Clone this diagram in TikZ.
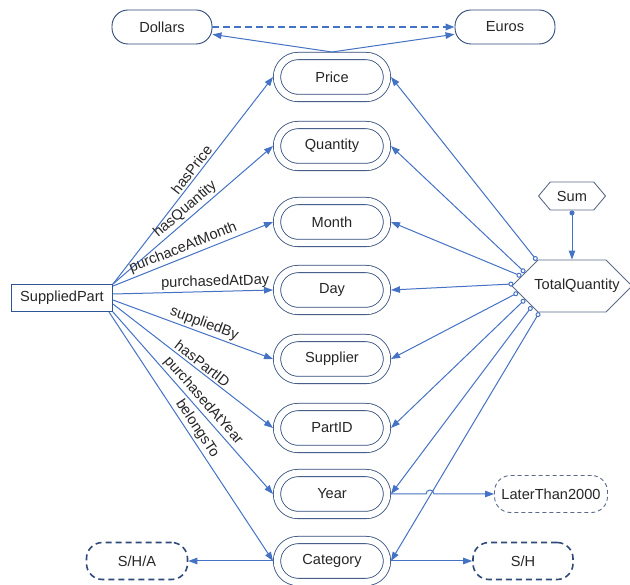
\documentclass[tikz,border=0pt]{standalone}
\usepackage{fontspec}
\setmainfont{Liberation Sans}
\usetikzlibrary{arrows.meta,shapes.symbols,shapes.geometric}
\definecolor{lineblue}{HTML}{4472C4}
\definecolor{navy}{HTML}{2F4A7A}
\definecolor{spblue}{HTML}{2F5597}
\definecolor{hexgray}{HTML}{5B6B87}
\definecolor{txt}{HTML}{262626}
\begin{document}
\begin{tikzpicture}[x=1pt,y=-1pt,
  every node/.style={font=\fontsize{14.6}{16}\selectfont, text=txt},
  attr/.style={draw=navy, line width=0.8pt, double=white, double distance=6.5pt,
    rounded corners=21pt, minimum width=110pt, minimum height=42pt, inner sep=0pt, outer sep=4pt},
  roundbox/.style={draw=navy, line width=0.9pt, rounded corners=16pt,
    minimum width=100pt, minimum height=34pt, inner sep=0pt},
  thindash/.style={draw=hexgray, line width=0.9pt, dash pattern=on 4pt off 3pt,
    rounded corners=16pt, minimum width=113pt, minimum height=37pt, inner sep=0pt},
  thickdash/.style={draw=navy, line width=1.6pt, dash pattern=on 6pt off 4pt,
    rounded corners=16pt, minimum width=100pt, minimum height=37pt, inner sep=0pt},
  hexa/.style={draw=hexgray, line width=0.9pt, shape=signal, signal to=west and east,
    inner ysep=0pt},
  conn/.style={draw=lineblue, line width=1pt, -{Triangle[length=9pt,width=6.5pt]}},
  tqconn/.style={draw=lineblue, line width=1pt,
    {Circle[open,length=5pt,width=5pt]}-{Triangle[length=9pt,width=6.5pt]}},
  lbl/.style={sloped, above, inner sep=2pt}
]
\useasboundingbox (0,0) rectangle (630,585);

% attribute nodes
\node[attr] (price) at (332,77) {Price};
\node[attr] (quantity) at (332,146) {Quantity};
\node[attr] (month) at (332,222) {Month};
\node[attr] (day) at (332,290) {Day};
\node[attr] (supplier) at (332,359) {Supplier};
\node[attr] (partid) at (332,428) {PartID};
\node[attr] (year) at (332,494) {Year};
\node[attr] (category) at (332,561) {Category};

% other nodes
\node[draw=spblue, line width=0.9pt, minimum width=101pt, minimum height=27pt, inner sep=0pt] (sp) at (62,298) {SuppliedPart};
\node[roundbox] (dollars) at (162,27) {Dollars};
\node[roundbox] (euros) at (505,27) {Euros};
\node[hexa, inner xsep=-4pt, minimum width=67pt, minimum height=28pt, signal pointer angle=100] (sum) at (572,196) {Sum};
\node[hexa, inner xsep=-18pt, minimum width=120pt, minimum height=52pt, signal pointer angle=90] (tq) at (572,286) {\hspace*{10pt}TotalQuantity};
\node[thindash] (later) at (551,494) {LaterThan2000};
\node[thickdash] (sh) at (523,561) {S/H};
\node[thickdash, minimum width=101pt] (sha) at (137,561) {S/H/A};

% SuppliedPart edges
\draw[conn] (sp.north east) -- node[lbl, pos=0.53] {hasPrice} (price.west);
\draw[conn] (sp.north east) -- node[lbl, pos=0.49] {hasQuantity} (quantity.west);
\draw[conn] ([yshift=-2pt]sp.north east) -- node[lbl, pos=0.46] {purchaceAtMonth} (month.west);
\draw[conn] ([yshift=4pt]sp.east) -- node[lbl, pos=0.64] {purchasedAtDay} (day.west);
\draw[conn] ([yshift=-2pt]sp.east) -- node[lbl, pos=0.55] {suppliedBy} (supplier.west);
\draw[conn] ([yshift=-6pt]sp.east) -- node[lbl, pos=0.53] {hasPartID} (partid.west);
\draw[conn] (sp.south east) -- node[lbl, pos=0.52] {purchasedAtYear} (year.west);
\draw[conn] ([xshift=-4pt]sp.south east) -- node[lbl, pos=0.49] {belongsTo} (category.west);

% TotalQuantity edges
\draw[tqconn] (tq.144) -- (price.east);
\draw[tqconn] (tq.164) -- (quantity.east);
\draw[tqconn] (tq.169) -- (month.east);
\draw[tqconn] (tq.178) -- (day.east);
\draw[tqconn] (tq.187) -- (supplier.east);
\draw[tqconn] (tq.196) -- (partid.east);
\draw[tqconn] (tq.207) -- (year.east);
\draw[tqconn] (tq.219) -- (category.east);

% Sum
\draw[draw=lineblue, line width=1pt, {Circle[length=5pt,width=5pt]}-{Triangle[length=9pt,width=6.5pt]}] (sum.south) -- (tq.north);

% currency
\draw[conn] (price.north) -- (dollars);
\draw[conn] (price.north) -- (euros);
\draw[conn, line width=1.8pt, dash pattern=on 7pt off 4pt] (dollars.east) -- (euros.west);

% year and category
\draw[conn] (year.east) -- ++(35,0) arc[start angle=180, end angle=0, radius=4pt] -- (later.west);
\draw[conn] (category.west) -- (sha.east);
\draw[conn] (category.east) -- (sh.west);
\end{tikzpicture}
\end{document}
